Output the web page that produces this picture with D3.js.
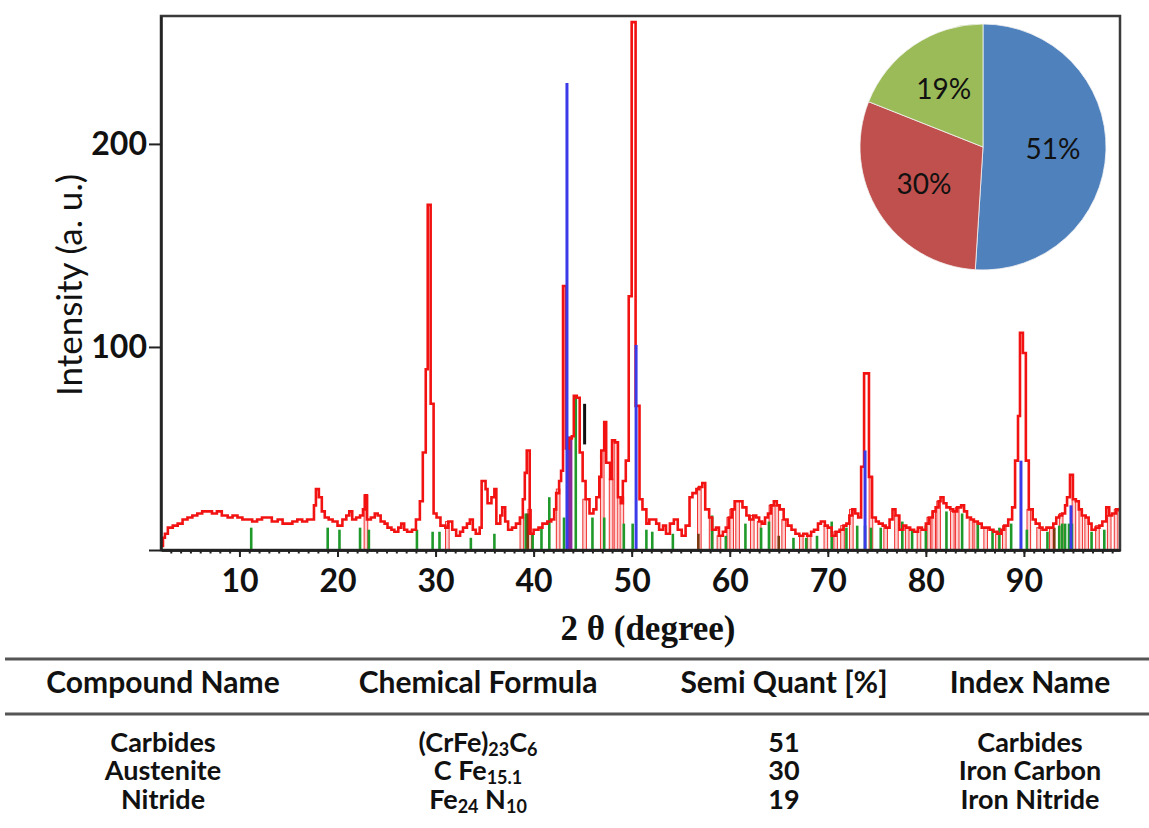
<!DOCTYPE html>
<html>
<head>
<meta charset="utf-8">
<script src="https://cdn.jsdelivr.net/npm/d3@7"></script>
<style>
  body { margin: 0; background: #fff; }
  svg text { font-family: Lato, "Open Sans", sans-serif; fill: #111; }
</style>
</head>
<body>
<div id="chart"></div>
<script>
// measured pattern, [2theta, intensity], drawn as steps
var profile = [
  [2.0,2],[2.2,6],[2.4,8],[2.7,11],[3.2,12],[3.7,13],[4.2,15],[4.7,16],[5.2,17],[5.7,18],[6.2,19],[6.7,19],
  [7.2,18],[7.7,19],[8.2,17],[8.8,16],[9.3,17],[9.8,16],[10.3,15],[10.8,15],[11.3,14],[11.8,15],[12.3,16],
  [12.8,16],[13.3,14],[13.9,15],[14.4,13],[14.9,13],[15.4,14],[15.9,15],[16.4,14],[16.9,15],[17.5,15],
  [17.6,22],[17.8,30],[18.1,26],[18.4,19],[18.7,16],[19.1,15],[19.5,14],[20.0,12],[20.5,15],[20.9,17],
  [21.2,19],[21.5,15],[21.9,16],[22.3,17],[22.6,20],[22.8,27],[23.0,15],[23.4,16],[23.8,18],[24.1,17],
  [24.4,14],[24.8,13],[25.1,11],[25.5,10],[25.8,9],[26.2,11],[26.5,13],[26.8,10],[27.1,9],[27.6,10],
  [28.0,15],[28.4,24],[28.7,48],[29.0,89],[29.2,170],[29.5,72],[29.8,18],[30.1,16],[30.5,12],[31.0,11],
  [31.3,14],[31.7,10],[32.1,7],[32.5,9],[32.8,11],[33.2,13],[33.5,15],[33.8,10],[34.1,8],[34.5,11],
  [34.7,34],[35.1,30],[35.3,23],[35.7,26],[36.0,30],[36.2,13],[36.6,17],[36.8,21],[37.1,14],[37.4,10],
  [37.8,11],[38.2,13],[38.6,16],[38.9,25],[39.1,38],[39.3,49],[39.6,8],[40.0,10],[40.5,11],[40.9,13],
  [41.4,14],[41.8,15],[42.1,20],[42.3,28],[42.6,34],[42.8,39],[43.0,130],[43.3,50],[43.6,55],[43.9,56],
  [44.1,76],[44.4,75],[44.7,48],[45.0,34],[45.3,25],[45.7,18],[46.1,20],[46.4,26],[46.7,36],[46.9,49],
  [47.2,63],[47.4,43],[47.8,35],[48.0,54],[48.3,53],[48.6,26],[48.9,23],[49.1,34],[49.4,44],[49.7,125],
  [50.0,260],[50.4,71],[50.8,25],[51.1,20],[51.5,13],[51.8,15],[52.1,15],[52.5,13],[52.8,10],[53.2,12],
  [53.5,8],[53.9,13],[54.3,15],[54.7,10],[55.1,7],[55.5,12],[55.9,26],[56.2,28],[56.6,30],[56.9,31],
  [57.2,33],[57.5,20],[57.9,16],[58.2,10],[58.6,11],[58.9,7],[59.3,9],[59.6,11],[59.9,16],[60.2,20],
  [60.5,24],[60.9,24],[61.3,21],[61.7,17],[62.0,15],[62.4,17],[62.7,16],[63.0,14],[63.3,13],[63.6,16],
  [63.9,18],[64.2,22],[64.5,24],[64.8,22],[65.1,20],[65.5,15],[65.9,12],[66.3,10],[66.7,8],[67.1,7],
  [67.5,8],[67.9,7],[68.3,9],[68.6,10],[69.0,13],[69.3,14],[69.7,12],[70.0,11],[70.4,7],[70.8,9],
  [71.2,10],[71.6,12],[71.9,13],[72.2,17],[72.5,20],[72.8,18],[73.1,16],[73.4,41],[73.7,87],[74.2,36],
  [74.5,16],[74.9,14],[75.2,13],[75.6,12],[75.9,11],[76.3,15],[76.6,20],[76.9,17],[77.3,10],[77.7,12],
  [78.0,11],[78.4,10],[78.8,9],[79.2,11],[79.6,10],[80.0,13],[80.3,16],[80.7,19],[81.0,21],[81.3,24],
  [81.5,26],[81.8,23],[82.1,21],[82.5,20],[82.8,19],[83.2,21],[83.6,22],[83.9,19],[84.2,16],[84.6,15],
  [84.9,14],[85.3,13],[85.7,11],[86.1,11],[86.5,10],[86.9,9],[87.3,8],[87.7,10],[88.0,12],[88.4,15],
  [88.8,21],[89.1,44],[89.4,66],[89.6,107],[89.9,97],[90.2,44],[90.5,20],[90.9,15],[91.2,13],[91.6,11],
  [91.9,10],[92.3,11],[92.6,11],[93.0,13],[93.3,16],[93.6,17],[93.9,18],[94.2,22],[94.4,26],[94.7,37],
  [95.0,25],[95.3,24],[95.6,20],[95.9,17],[96.3,16],[96.6,13],[96.9,10],[97.3,11],[97.7,12],[98.0,14],
  [98.4,21],[98.7,17],[99.0,18],[99.4,20],[99.7,19]
];

// reference sticks, [2theta, height]
var redSticks = [
  [22.9,27],[31.2,14],[38.8,16],[39.6,20],[42.5,30],[45.2,25],[47.0,49],[47.9,35],[48.4,53],[49.0,26],
  [56.9,31],[58.1,16],[58.9,7],[59.9,16],[60.2,20],[60.8,24],[62.3,17],[63.0,14],[64.2,22],[64.8,22],
  [65.5,15],[67.3,7],[68.1,7],[69.8,12],[70.8,9],[71.5,12],[72.4,20],[74.4,36],[75.9,11],[77.0,17],
  [78.1,11],[79.3,11],[80.3,16],[80.8,19],[81.3,24],[82.7,19],[83.2,21],[84.6,15],[85.1,14],[86.1,11],
  [87.3,8],[88.0,12],[90.5,20],[91.5,11],[92.8,11],[93.8,18],[95.1,25],[95.8,20],[96.4,16],[97.5,12],
  [98.7,17],[99.4,20]
];
var greenSticks = [
  [11.2,11],[19.0,11],[20.2,10],[22.3,11],[23.2,10],[28.1,10],[29.7,9],[30.4,9],[33.6,6],[36.0,8],
  [39.2,18],[39.9,8],[40.8,11],[41.6,26],[43.1,16],[44.3,76],[46.0,16],[47.2,16],[49.2,13],[50.1,13],
  [51.5,10],[52.1,9],[54.2,8],[58.2,17],[59.6,7],[61.6,13],[63.2,11],[64.0,14],[66.5,6],[67.8,6],
  [68.9,7],[70.4,14],[71.9,11],[73.0,12],[73.8,12],[74.4,11],[75.4,11],[77.6,14],[78.6,10],[80.0,12],
  [82.1,19],[83.7,18],[85.3,14],[86.8,10],[87.5,11],[88.7,13],[90.3,10],[92.4,9],[93.6,12],[93.9,13],
  [94.2,13],[94.6,13],[94.9,13],[96.9,9],[98.2,10]
];
var brownSticks = [[39.4,18],[56.8,8],[65.0,7],[93.1,11]];
var purpleSticks = [[43.7,56]];
var blueSticks = [[43.4,230],[50.45,101],[73.8,49],[89.7,44],[94.8,22]];
var blackSticks = [[45.2,52,72]]; // [2theta, from, to]

var xTicks = [10,20,30,40,50,60,70,80,90];
var xMinor = d3.range(3, 100, 1);
var yTicks = [0,100,200];
var yTickLabels = ['', '100', '200'];

var pieNames = ['Carbides','Austenite','Nitride'];
var pieValues = [51,30,19];
var pieColors = ['#4f81bd','#c0504d','#9bbb59'];

var tableHeader = ['Compound Name','Chemical Formula','Semi Quant [%]','Index Name'];
var tableNames = ['Carbides','Austenite','Nitride'];
var tableFormulas = [
  [['(CrFe)',0],['23',1],['C',0],['6',1]],
  [['C Fe',0],['15.1',1]],
  [['Fe',0],['24',1],[' N',0],['10',1]]
];
var tableQuant = ['51','30','19'];
var tableIndex = ['Carbides','Iron Carbon','Iron Nitride'];

var W = 1149, H = 828;
var svg = d3.select('#chart').append('svg').attr('width', W).attr('height', H);

var x = d3.scaleLinear().domain([2, 99.8]).range([161, 1120]);
var y = d3.scaleLinear().domain([0, 263]).range([550, 16]);

var plot = svg.append('g');

// red reference sticks (hollow)
plot.selectAll('rect.rs').data(redSticks).enter().append('rect')
  .attr('x', function(d){ return x(d[0]) - 1.8; })
  .attr('y', function(d){ return y(d[1]); })
  .attr('width', 3.6)
  .attr('height', function(d){ return y(0) - y(d[1]); })
  .attr('fill', '#ffd0d0').attr('stroke', '#f03030').attr('stroke-width', 1);

function sticks(data, color, w) {
  plot.append('g').selectAll('line').data(data).enter().append('line')
    .attr('x1', function(d){ return x(d[0]); })
    .attr('x2', function(d){ return x(d[0]); })
    .attr('y1', y(0))
    .attr('y2', function(d){ return y(d[1]); })
    .attr('stroke', color).attr('stroke-width', w);
}
sticks(greenSticks, '#1f9a2a', 2.6);
sticks(brownSticks, '#7a3a10', 2.6);
sticks(purpleSticks, '#8a2a9a', 5);

plot.append('g').selectAll('line').data(blackSticks).enter().append('line')
  .attr('x1', function(d){ return x(d[0]); })
  .attr('x2', function(d){ return x(d[0]); })
  .attr('y1', function(d){ return y(d[1]); })
  .attr('y2', function(d){ return y(d[2]); })
  .attr('stroke', '#111').attr('stroke-width', 3);

// measured trace
var line = d3.line()
  .x(function(d){ return x(d[0]); })
  .y(function(d){ return y(d[1]); })
  .curve(d3.curveStepAfter);
plot.append('path').datum(profile)
  .attr('d', line)
  .attr('fill', 'none').attr('stroke', '#f21212').attr('stroke-width', 2.6)
  .attr('stroke-linejoin', 'miter');

sticks(blueSticks, '#3a3ae8', 3);

// frame
svg.append('rect')
  .attr('x', x(2)).attr('y', y(263))
  .attr('width', x(99.8) - x(2)).attr('height', y(0) - y(263))
  .attr('fill', 'none').attr('stroke', '#3a3a3a').attr('stroke-width', 2.5);

// axes
var xAxis = svg.append('g').attr('transform', 'translate(0,' + y(0) + ')')
  .call(d3.axisBottom(x).tickValues(xTicks).tickSize(7).tickSizeOuter(0).tickPadding(12));
var xMinorAxis = svg.append('g').attr('transform', 'translate(0,' + y(0) + ')')
  .call(d3.axisBottom(x).tickValues(xMinor).tickSize(3.5).tickSizeOuter(0).tickFormat(''));
var yAxis = svg.append('g').attr('transform', 'translate(' + x(2) + ',0)')
  .call(d3.axisLeft(y).tickValues(yTicks).tickSize(12).tickSizeOuter(0).tickPadding(2)
    .tickFormat(function(d, i){ return yTickLabels[i]; }));

[xAxis, xMinorAxis, yAxis].forEach(function(a){
  a.select('.domain').attr('stroke', '#222').attr('stroke-width', 2.5);
  a.selectAll('.tick line').attr('stroke', '#222').attr('stroke-width', 2);
  a.selectAll('.tick text').attr('font-size', 32).attr('font-weight', 700)
    .style('font-family', 'Lato, sans-serif').attr('fill', '#111');
});

svg.append('text')
  .attr('transform', 'translate(82,285) rotate(-90)')
  .attr('text-anchor', 'middle').attr('font-size', 35)
  .text('Intensity (a. u.)');

svg.append('text')
  .attr('x', 648).attr('y', 640)
  .attr('text-anchor', 'middle').attr('font-size', 35).attr('font-weight', 700)
  .style('font-family', '"Liberation Serif", serif')
  .text('2 θ (degree)');

// pie
var pie = d3.pie().sort(null).value(function(d){ return d; });
var arc = d3.arc().innerRadius(0).outerRadius(123);
var labelArc = d3.arc().innerRadius(70).outerRadius(70);
var pg = svg.append('g').attr('transform', 'translate(983,147)');
var slices = pie(pieValues);
pg.selectAll('path').data(slices).enter().append('path')
  .attr('d', arc)
  .attr('fill', function(d, i){ return pieColors[i]; })
  .attr('stroke', '#f4f4f4').attr('stroke-width', 0.8);
pg.selectAll('text').data(slices).enter().append('text')
  .attr('transform', function(d){ return 'translate(' + labelArc.centroid(d) + ')'; })
  .attr('text-anchor', 'middle').attr('dy', '0.35em')
  .attr('font-size', 28).attr('fill', '#1b1b24')
  .text(function(d){ return d.data + '%'; });

// table
var colX = [163, 478, 784, 1030];
var tbl = svg.append('g');
tbl.append('line').attr('x1', 5).attr('x2', 1149).attr('y1', 659).attr('y2', 659)
  .attr('stroke', '#555').attr('stroke-width', 3);
tbl.append('line').attr('x1', 5).attr('x2', 1149).attr('y1', 714).attr('y2', 714)
  .attr('stroke', '#555').attr('stroke-width', 3);

var fs = 30;
tbl.selectAll('text.h').data(tableHeader).enter().append('text')
  .attr('x', function(d, i){ return colX[i]; }).attr('y', 693)
  .attr('text-anchor', 'middle').attr('font-size', fs).attr('font-weight', 700)
  .text(function(d){ return d; });

var rowY = [752, 780, 809];
var rs = 27;
tableNames.forEach(function(name, r) {
  tbl.append('text').attr('x', colX[0]).attr('y', rowY[r])
    .attr('text-anchor', 'middle').attr('font-size', rs).attr('font-weight', 700).text(name);
  var t = tbl.append('text').attr('x', colX[1]).attr('y', rowY[r])
    .attr('text-anchor', 'middle').attr('font-size', rs).attr('font-weight', 700);
  var shifted = false;
  tableFormulas[r].forEach(function(p) {
    var s = t.append('tspan').text(p[0]);
    if (p[1]) { s.attr('font-size', 18).attr('dy', 4); shifted = true; }
    else if (shifted) { s.attr('dy', -4); shifted = false; }
  });
  tbl.append('text').attr('x', colX[2]).attr('y', rowY[r])
    .attr('text-anchor', 'middle').attr('font-size', rs).attr('font-weight', 700).text(tableQuant[r]);
  tbl.append('text').attr('x', colX[3]).attr('y', rowY[r])
    .attr('text-anchor', 'middle').attr('font-size', rs).attr('font-weight', 700).text(tableIndex[r]);
});
</script>
</body>
</html>
